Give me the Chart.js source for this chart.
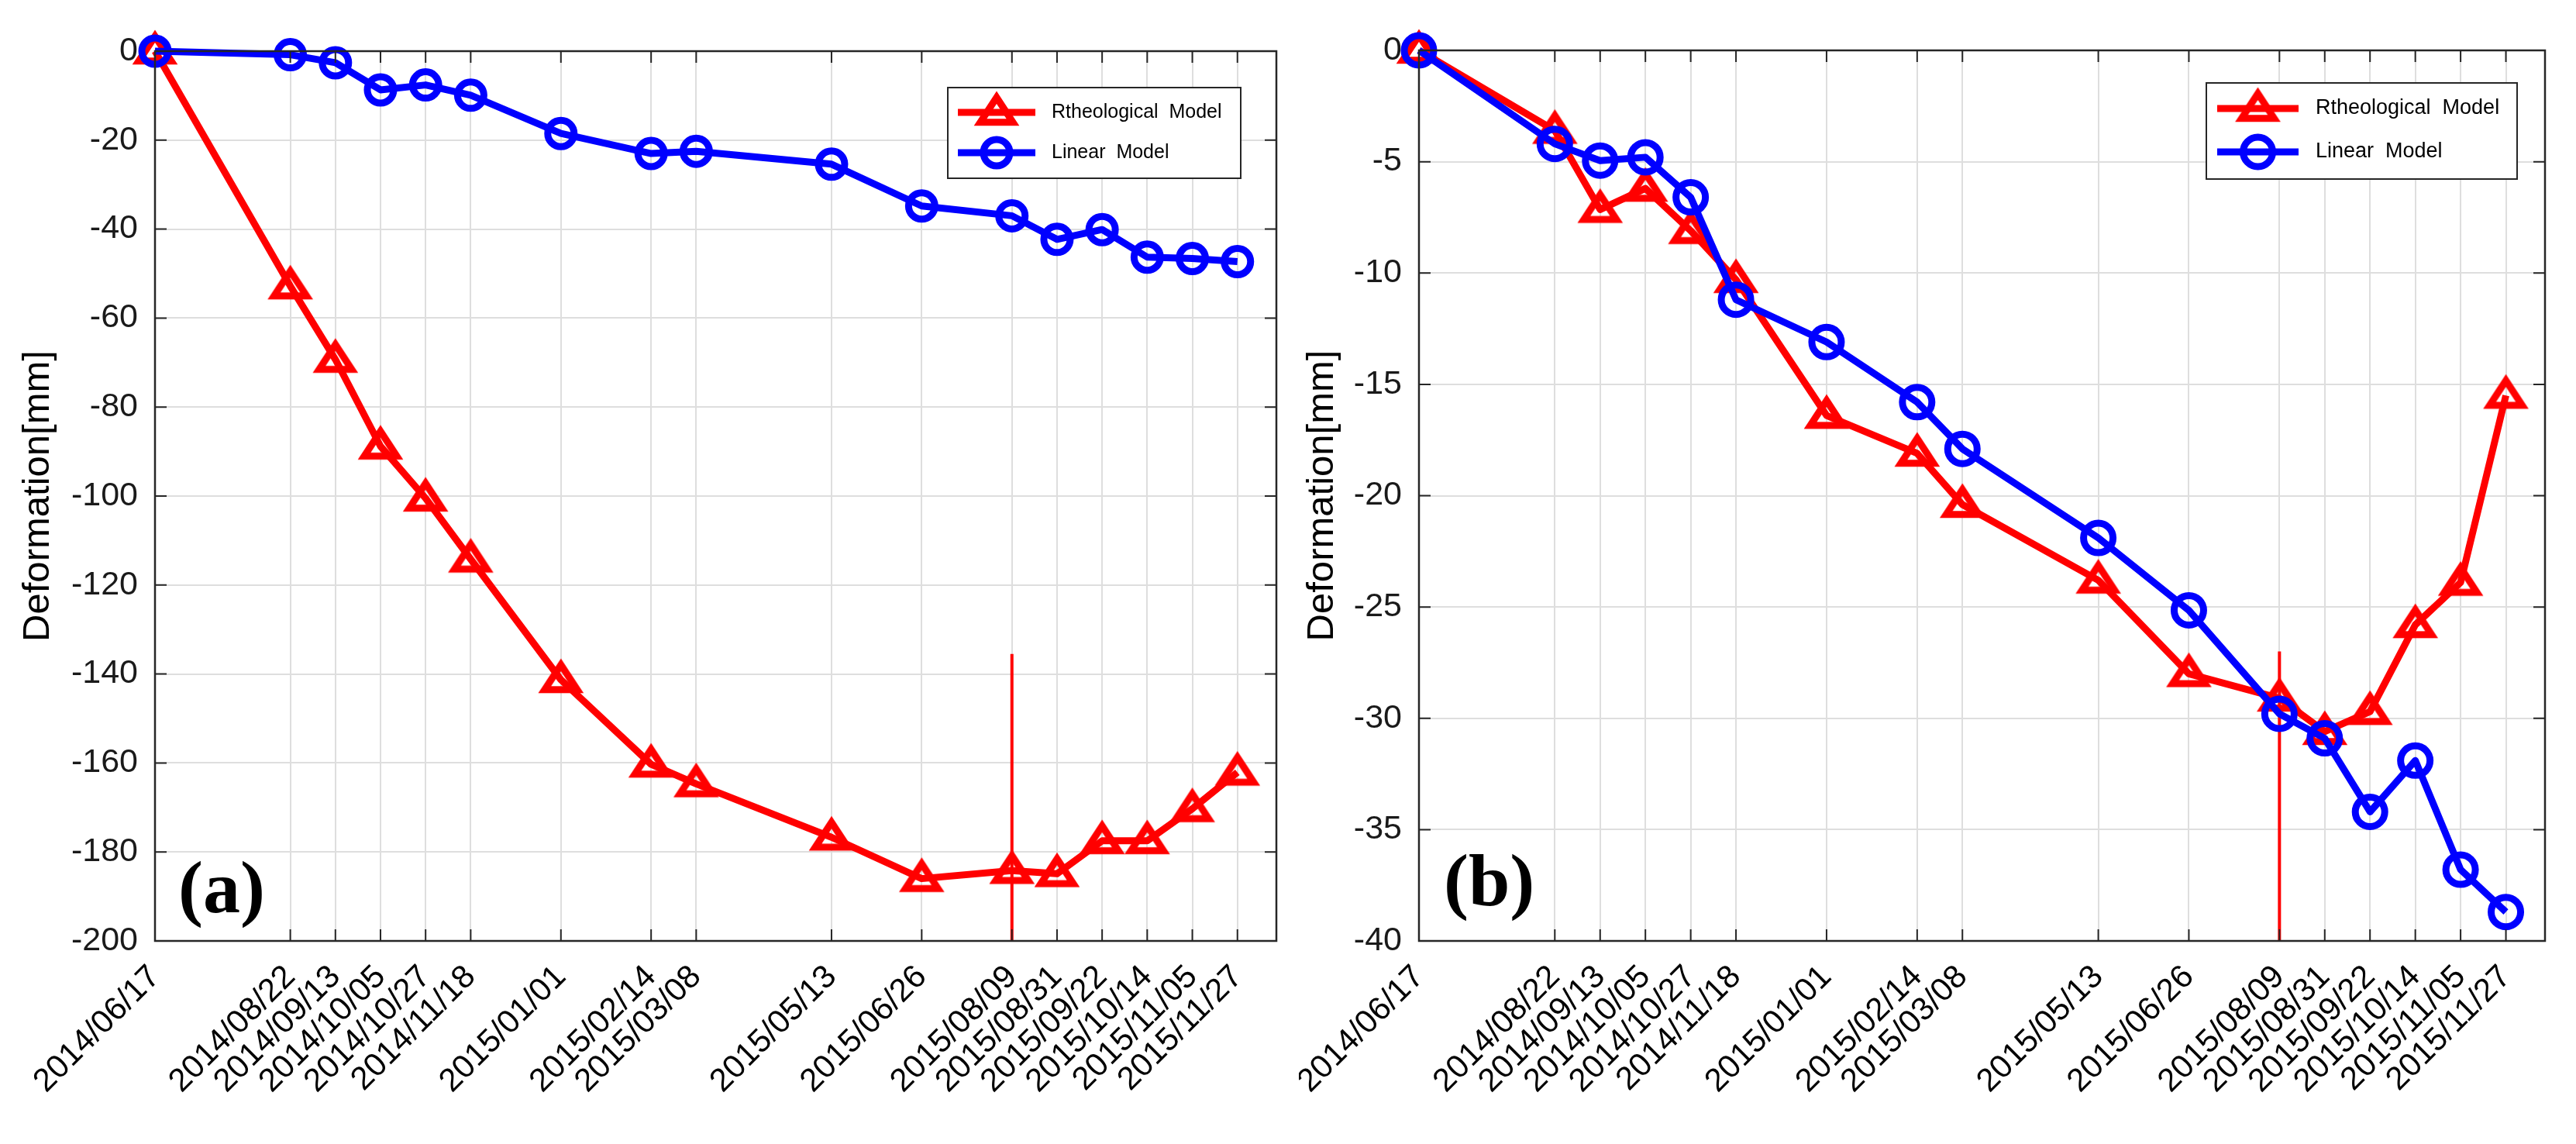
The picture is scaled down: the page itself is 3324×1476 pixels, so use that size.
<!DOCTYPE html>
<html>
<head>
<meta charset="utf-8">
<title>Deformation - Rtheological vs Linear Model</title>
<script src="https://cdn.jsdelivr.net/npm/chart.js@4.4.1/dist/chart.umd.min.js"></script>
<style>
  html, body { margin: 0; padding: 0; background: #fff; }
  body { width: 3324px; height: 1476px; position: relative; overflow: hidden; }
  .panel { position: absolute; top: 0; height: 1476px; }
  #panelA { left: 0; width: 1676px; }
  #panelB { left: 1676px; width: 1648px; }
</style>
</head>
<body>
<div class="panel" id="panelA"><canvas id="chartA" width="1676" height="1476"></canvas></div>
<div class="panel" id="panelB"><canvas id="chartB" width="1648" height="1476"></canvas></div>
<script>
// Acquisition dates, also the x tick labels
const dates = [
    '2014/06/17', '2014/08/22', '2014/09/13', '2014/10/05', '2014/10/27', '2014/11/18',
    '2015/01/01', '2015/02/14', '2015/03/08', '2015/05/13', '2015/06/26', '2015/08/09',
    '2015/08/31', '2015/09/22', '2015/10/14', '2015/11/05', '2015/11/27'
];

// Panel (a)
const rheoA = [0, -52.8, -69.3, -88.8, -100.5, -114.2, -141.3, -160.3, -164.7,
    -176.7, -186.0, -184.2, -184.9, -177.5, -177.5, -170.3, -162.1];
const linearA = [0, -0.8, -2.6, -8.7, -7.6, -9.9, -18.5, -23.0, -22.5,
    -25.4, -34.8, -37.0, -42.3, -40.1, -46.3, -46.6, -47.3];
const yTicksA = [0, -20, -40, -60, -80, -100, -120, -140, -160, -180, -200];
const cutA = [-135.5, -200]; // red vertical mark at 2015/08/09

// Panel (b)
const rheoB = [0, -3.6, -7.15, -6.2, -8.1, -10.3, -16.4, -18.1, -20.4,
    -23.8, -28.0, -29.1, -30.6, -29.7, -25.8, -23.9, -15.5];
const linearB = [0, -4.2, -4.95, -4.8, -6.6, -11.2, -13.1, -15.8, -17.9,
    -21.9, -25.15, -29.8, -30.9, -34.2, -31.9, -36.8, -38.7];
const yTicksB = [0, -5, -10, -15, -20, -25, -30, -35, -40];
const cutB = [-27.0, -40];

const seriesLabels = ['Rtheological  Model', 'Linear  Model'];
const cutDate = '2015/08/09';
const xMaxDay = 547;

const FONT = '"Liberation Sans", Arial, Helvetica, sans-serif';
Chart.defaults.font.family = FONT;

// days since the first acquisition
function dayOf(s) {
    const p = s.split('/').map(Number);
    const q = dates[0].split('/').map(Number);
    return (Date.UTC(p[0], p[1] - 1, p[2]) - Date.UTC(q[0], q[1] - 1, q[2])) / 86400000;
}
const days = dates.map(dayOf);

// MATLAB-like '^' marker, a bit flatter than Chart.js' triangle
function makeTriangle(color, w, h, lw) {
    const c = document.createElement('canvas');
    c.width = Math.ceil(w + lw * 4);
    c.height = Math.ceil(h + lw * 4);
    const ctx = c.getContext('2d');
    const cx = c.width / 2, cy = c.height / 2;
    ctx.beginPath();
    ctx.moveTo(cx, cy - h * 0.6);
    ctx.lineTo(cx + w / 2, cy + h * 0.4);
    ctx.lineTo(cx - w / 2, cy + h * 0.4);
    ctx.closePath();
    ctx.lineJoin = 'miter';
    ctx.lineWidth = lw;
    ctx.strokeStyle = color;
    ctx.stroke();
    return c;
}
const redTriangle = makeTriangle('#ff0000', 42, 32, 9);

// box, inward ticks on all four sides
const frame = {
    id: 'frame',
    afterDatasetsDraw(chart) {
        const { ctx, chartArea: a, scales: { x, y } } = chart;
        const len = 15;
        ctx.save();
        ctx.strokeStyle = '#262626';
        ctx.lineWidth = 2;
        ctx.beginPath();
        x.ticks.forEach(t => {
            const px = x.getPixelForValue(t.value);
            ctx.moveTo(px, a.bottom); ctx.lineTo(px, a.bottom - len);
            ctx.moveTo(px, a.top); ctx.lineTo(px, a.top + len);
        });
        y.ticks.forEach(t => {
            const py = y.getPixelForValue(t.value);
            ctx.moveTo(a.left, py); ctx.lineTo(a.left + len, py);
            ctx.moveTo(a.right, py); ctx.lineTo(a.right - len, py);
        });
        ctx.stroke();
        ctx.lineWidth = 2.5;
        ctx.strokeRect(a.left, a.top, a.right - a.left, a.bottom - a.top);
        ctx.restore();
    }
};

// "(a)" / "(b)"
const panelTag = {
    id: 'panelTag',
    afterDatasetsDraw(chart, args, opts) {
        const { ctx, chartArea: a } = chart;
        ctx.save();
        ctx.font = 'bold 96px "Liberation Serif", "Times New Roman", serif';
        ctx.fillStyle = '#000';
        ctx.textBaseline = 'alphabetic';
        ctx.fillText(opts.text, a.left + opts.dx, a.bottom - opts.dy);
        ctx.restore();
    }
};

// legend in a framed box, MATLAB style
const boxLegend = {
    id: 'boxLegend',
    afterDraw(chart, args, opts) {
        const { ctx, chartArea: a } = chart;
        const left = a.right - opts.right - opts.width;
        const top = a.top + opts.top;
        ctx.save();
        ctx.fillStyle = '#fff';
        ctx.fillRect(left, top, opts.width, opts.height);
        ctx.strokeStyle = '#262626';
        ctx.lineWidth = 2;
        ctx.strokeRect(left, top, opts.width, opts.height);
        const items = chart.data.datasets.filter(d => d.label);
        items.forEach((ds, i) => {
            const y = top + opts.rowTop + i * opts.rowGap;
            const x0 = left + opts.lineLeft;
            ctx.strokeStyle = ds.borderColor;
            ctx.lineWidth = ds.borderWidth;
            ctx.beginPath();
            ctx.moveTo(x0, y);
            ctx.lineTo(x0 + opts.lineLen, y);
            ctx.stroke();
            const mx = x0 + opts.lineLen / 2;
            if (ds.pointStyle instanceof HTMLCanvasElement) {
                const s = ds.pointStyle;
                ctx.drawImage(s, mx - s.width / 2, y - s.height / 2);
            } else {
                ctx.lineWidth = ds.pointBorderWidth;
                ctx.beginPath();
                ctx.arc(mx, y, ds.pointRadius, 0, Math.PI * 2);
                ctx.stroke();
            }
            ctx.font = opts.fontSize + 'px ' + FONT;
            ctx.fillStyle = '#000';
            ctx.textBaseline = 'middle';
            ctx.fillText(ds.label, left + opts.textLeft, y);
        });
        ctx.restore();
    }
};

function buildChart(id, cfg) {
    const cutDay = dayOf(cutDate);
    return new Chart(document.getElementById(id), {
        type: 'line',
        data: {
            datasets: [
                {
                    label: seriesLabels[0],
                    data: days.map((d, i) => ({ x: d, y: cfg.rheo[i] })),
                    borderColor: '#ff0000',
                    borderWidth: 9,
                    borderJoinStyle: 'round',
                    pointStyle: redTriangle,
                    pointRadius: 20,
                    tension: 0,
                    clip: false,
                    order: 1
                },
                {
                    label: seriesLabels[1],
                    data: days.map((d, i) => ({ x: d, y: cfg.linear[i] })),
                    borderColor: '#0000ff',
                    borderWidth: 9,
                    borderJoinStyle: 'round',
                    pointStyle: 'circle',
                    pointRadius: cfg.circleR,
                    pointBorderWidth: 9,
                    pointBorderColor: '#0000ff',
                    pointBackgroundColor: 'rgba(0,0,0,0)',
                    tension: 0,
                    clip: false,
                    order: 0
                },
                {
                    data: [{ x: cutDay, y: cfg.cut[0] }, { x: cutDay, y: cfg.cut[1] }],
                    borderColor: '#ff0000',
                    borderWidth: 4,
                    pointRadius: 0,
                    clip: false,
                    order: 2
                }
            ]
        },
        options: {
            responsive: false,
            animation: false,
            devicePixelRatio: 1,
            events: [],
            layout: { padding: cfg.padding },
            scales: {
                x: {
                    type: 'linear',
                    min: 0,
                    max: xMaxDay,
                    afterBuildTicks: s => { s.ticks = days.map(v => ({ value: v })); },
                    afterFit: s => { s.height = cfg.xHeight; s.paddingLeft = 0; s.paddingRight = 0; },
                    grid: { color: '#dedede', lineWidth: 2, drawTicks: false },
                    border: { display: false },
                    ticks: {
                        autoSkip: false,
                        minRotation: 45,
                        maxRotation: 45,
                        padding: 22,
                        color: '#000',
                        font: { size: 42 },
                        callback: v => dates[days.indexOf(v)]
                    }
                },
                y: {
                    min: cfg.yTicks[cfg.yTicks.length - 1],
                    max: cfg.yTicks[0],
                    afterBuildTicks: s => { s.ticks = cfg.yTicks.map(v => ({ value: v })); },
                    afterFit: s => { s.width = cfg.yWidth; },
                    grid: { color: '#dedede', lineWidth: 2, drawTicks: false },
                    border: { display: false },
                    ticks: {
                        padding: 22,
                        color: '#1a1a1a',
                        font: { size: 43 },
                        callback: v => String(v)
                    },
                    title: {
                        display: true,
                        text: 'Deformation[mm]',
                        color: '#000',
                        font: { size: 49 },
                        padding: { top: cfg.titlePad, bottom: 0 }
                    }
                }
            },
            plugins: {
                legend: { display: false },
                tooltip: { enabled: false },
                panelTag: cfg.tag,
                boxLegend: cfg.legend
            }
        },
        plugins: [frame, panelTag, boxLegend]
    });
}

buildChart('chartA', {
    rheo: rheoA, linear: linearA, cut: cutA, yTicks: yTicksA,
    circleR: 17, yWidth: 200, xHeight: 262, titlePad: 20,
    padding: { left: 0, top: 66, right: 22, bottom: 0 },
    tag: { text: '(a)', dx: 30, dy: 37 },
    legend: { right: 46, top: 47, width: 378, height: 117, rowTop: 32, rowGap: 52,
              lineLeft: 13, lineLen: 100, textLeft: 134, fontSize: 25 }
});

buildChart('chartB', {
    rheo: rheoB, linear: linearB, cut: cutB, yTicks: yTicksB,
    circleR: 19, yWidth: 155, xHeight: 262, titlePad: 1,
    padding: { left: 0, top: 65, right: 40, bottom: 0 },
    tag: { text: '(b)', dx: 32, dy: 46 },
    legend: { right: 36, top: 42, width: 401, height: 124, rowTop: 33, rowGap: 56,
              lineLeft: 14, lineLen: 105, textLeft: 141, fontSize: 27 }
});
</script>
</body>
</html>
